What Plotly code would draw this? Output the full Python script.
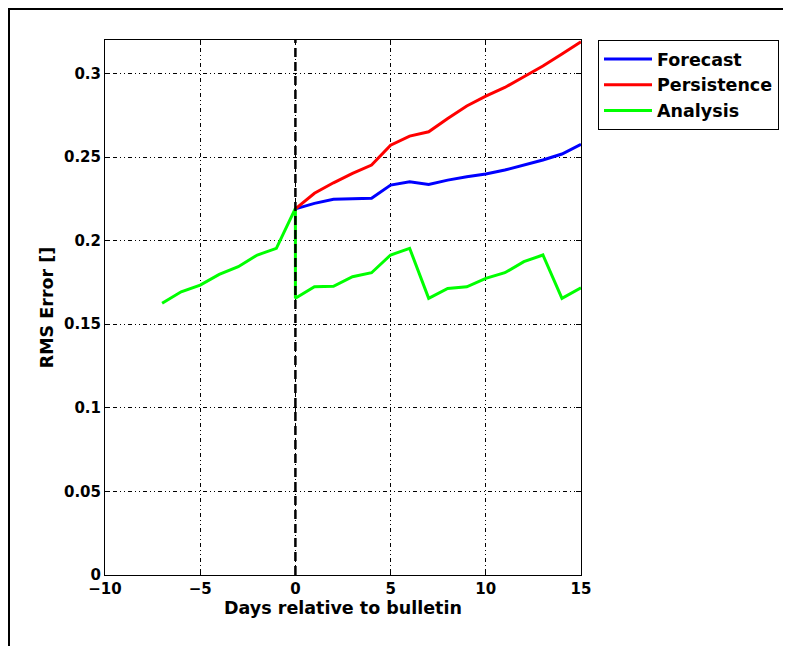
import plotly.graph_objects as go

days_fc = list(range(0, 16))
forecast = [0.219, 0.2223, 0.2247, 0.2249, 0.2253, 0.2332, 0.2352, 0.2336, 0.2362,
            0.2382, 0.2398, 0.2422, 0.2452, 0.2482, 0.2518, 0.2576]
persistence = [0.219, 0.2283, 0.2346, 0.2402, 0.2452, 0.2571, 0.2625, 0.2651, 0.2731,
               0.2805, 0.2864, 0.2916, 0.2980, 0.3044, 0.3116, 0.3189]
days_an = [-7, -6, -5, -4, -3, -2, -1, 0, 0, 1, 2, 3, 4, 5, 6, 7, 8, 9, 10, 11, 12, 13, 14, 15]
analysis = [0.1625, 0.1694, 0.1734, 0.1798, 0.1844, 0.1914, 0.1954, 0.2193,
            0.1655, 0.1724, 0.1727, 0.1784, 0.1808, 0.1914, 0.1954, 0.1655,
            0.1714, 0.1724, 0.1774, 0.1808, 0.1874, 0.1914, 0.1655, 0.1718]

x_ticks = [-10, -5, 0, 5, 10, 15]
x_labels = ["\u221210", "\u22125", "0", "5", "10", "15"]
y_ticks = [0, 0.05, 0.1, 0.15, 0.2, 0.25, 0.3]
y_labels = ["0", "0.05", "0.1", "0.15", "0.2", "0.25", "0.3"]

TICKFONT = dict(family="DejaVu Sans", size=15, color="black", weight="bold")
TITLEFONT = dict(family="DejaVu Sans", size=17.5, color="black", weight="bold")

# plot area in page pixels (page has an 8px body offset)
L, T, W, H = 97, 32, 476, 535

fig = go.Figure()
fig.add_trace(go.Scatter(x=days_fc, y=forecast, mode="lines", name="Forecast",
                         line=dict(color="#0000ff", width=3)))
fig.add_trace(go.Scatter(x=days_fc, y=persistence, mode="lines", name="Persistence",
                         line=dict(color="#ff0000", width=3)))
fig.add_trace(go.Scatter(x=days_an, y=analysis, mode="lines", name="Analysis",
                         line=dict(color="#00ff00", width=3)))

# vertical dashed line at day 0
fig.add_shape(type="line", xref="x", yref="paper", x0=0, x1=0, y0=0, y1=1,
              line=dict(color="black", width=2.5, dash="9px,5px"), layer="above")

# outer figure frame (only left and top edges visible)
fig.add_shape(type="rect", xref="paper", yref="paper",
              x0=(1 - L) / W, x1=(820 - L) / W,
              y0=(T + H - 680) / H, y1=(T + H - 1) / H,
              line=dict(color="black", width=2), fillcolor="rgba(0,0,0,0)", layer="below")

axis_common = dict(showline=True, linecolor="black", linewidth=1, mirror="ticks",
                   ticks="inside", ticklen=5, tickcolor="black",
                   showgrid=True, gridcolor="black", gridwidth=1,
                   griddash="1px,3px,1px,3px,4px,3px", zeroline=False,
                   tickfont=TICKFONT)

fig.update_xaxes(range=[-10, 15], tickvals=x_ticks, ticktext=x_labels,
                 title=dict(text="Days relative to bulletin", font=TITLEFONT, standoff=2),
                 **axis_common)
fig.update_yaxes(range=[0, 0.32], tickvals=y_ticks, ticktext=y_labels,
                 title=dict(text="RMS Error []", font=TITLEFONT, standoff=5),
                 **axis_common)

fig.update_layout(
    width=791, height=646,
    margin=dict(l=L, r=791 - L - W, t=T, b=646 - T - H),
    paper_bgcolor="white", plot_bgcolor="white",
    font=TICKFONT,
    showlegend=True,
    legend=dict(x=(590 - L) / W, y=1, xanchor="left", yanchor="top",
                bordercolor="black", borderwidth=1, bgcolor="white",
                font=TITLEFONT, itemwidth=48, tracegroupgap=0),
)

fig.write_html("out.html")
